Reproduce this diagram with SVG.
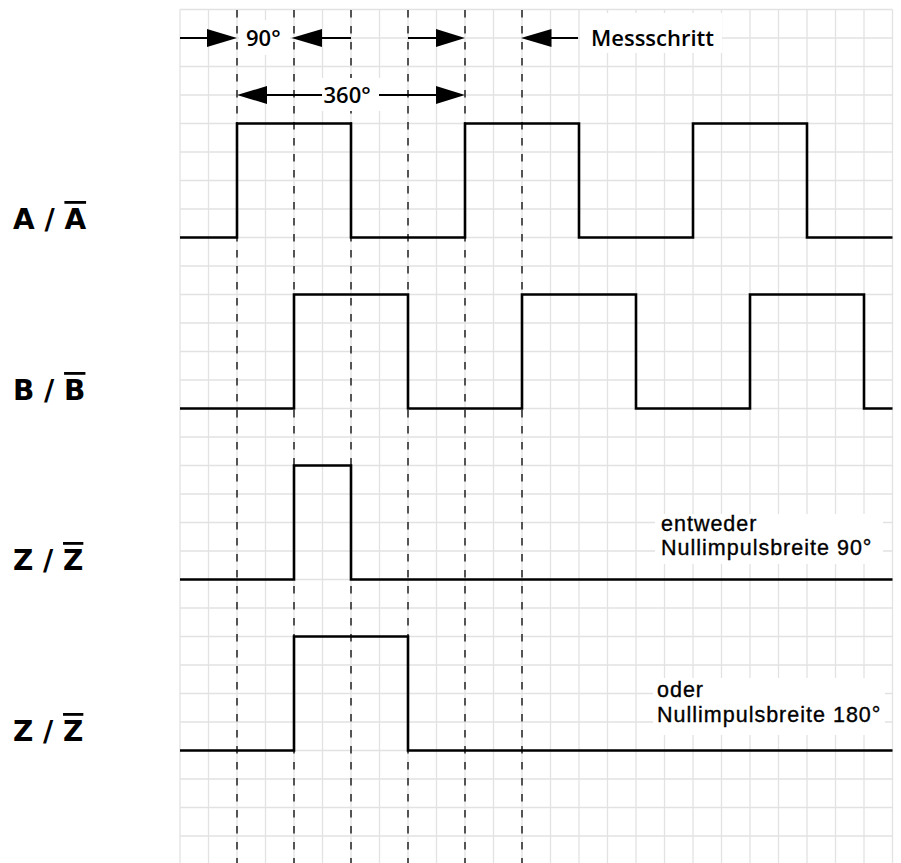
<svg xmlns="http://www.w3.org/2000/svg" width="901" height="863" viewBox="0 0 901 863">
<style>
.grid{stroke:#e2e2e2;stroke-width:1.3;fill:none}
.dash{stroke:#222;stroke-width:1.5;stroke-dasharray:7.5 8.5;fill:none}
.sig{stroke:#000;stroke-width:2.6;fill:none;stroke-linejoin:miter}
.arr{stroke:#000;stroke-width:2;fill:none}
.head{fill:#000;stroke:none}
.bg{fill:#fff}
.lbl{font-family:"DejaVu Sans",sans-serif;font-weight:bold;font-size:28px;fill:#000}
.ann{font-family:"Open Sans","Liberation Sans",sans-serif;font-weight:600;font-size:22px;fill:#000}
.note{font-family:"Liberation Sans",Arial,sans-serif;font-size:21.5px;letter-spacing:1px;fill:#000;stroke:#000;stroke-width:0.35}
.ov{text-decoration:overline}
</style>
<rect width="901" height="863" fill="#fff"/>
<g id="grid">
<path class="grid" d="M180,9.5V863M208.5,9.5V863M237,9.5V863M265.5,9.5V863M294,9.5V863M322.5,9.5V863M351,9.5V863M379.5,9.5V863M408,9.5V863M436.5,9.5V863M465,9.5V863M493.5,9.5V863M522,9.5V863M550.5,9.5V863M579,9.5V863M607.5,9.5V863M636,9.5V863M664.5,9.5V863M693,9.5V863M721.5,9.5V863M750,9.5V863M778.5,9.5V863M807,9.5V863M835.5,9.5V863M864,9.5V863M892.5,9.5V863"/>
<path class="grid" d="M180,9.5H892.5M180,38H892.5M180,66.5H892.5M180,95H892.5M180,123.5H892.5M180,152H892.5M180,180.5H892.5M180,209H892.5M180,237.5H892.5M180,266H892.5M180,294.5H892.5M180,323H892.5M180,351.5H892.5M180,380H892.5M180,408.5H892.5M180,437H892.5M180,465.5H892.5M180,494H892.5M180,522.5H892.5M180,551H892.5M180,579.5H892.5M180,608H892.5M180,636.5H892.5M180,665H892.5M180,693.5H892.5M180,722H892.5M180,750.5H892.5M180,779H892.5M180,807.5H892.5M180,836H892.5"/>
</g>
<g id="phase-lines">
<path class="dash" d="M237,10V863M294,10V863M351,10V863M408,10V863M465,10V863M522,10V863"/>
</g>
<g id="text-backgrounds">
<rect class="bg" x="239" y="20" width="51" height="35"/>
<rect class="bg" x="319" y="78" width="62" height="33"/>
<rect class="bg" x="580" y="13" width="142" height="40"/>
<rect class="bg" x="655" y="514" width="228" height="50"/>
<rect class="bg" x="653" y="678" width="232" height="57"/>
</g>
<g id="signal-A">
<text class="lbl" x="13" y="229">A / <tspan class="ov">A</tspan></text>
<path class="sig" d="M180,237.5H237V123.5H351V237.5H465V123.5H579V237.5H693V123.5H807V237.5H892.5"/>
</g>
<g id="signal-B">
<text class="lbl" x="13" y="400">B / <tspan class="ov">B</tspan></text>
<path class="sig" d="M180,408.5H294V294.5H408V408.5H522V294.5H636V408.5H750V294.5H864V408.5H892.5"/>
</g>
<g id="signal-Z90">
<text class="lbl" x="13" y="570">Z / <tspan class="ov">Z</tspan></text>
<path class="sig" d="M180,579.5H294V465.5H351V579.5H892.5"/>
<text class="note" x="661" y="530.5">entweder</text>
<text class="note" x="661" y="555">Nullimpulsbreite 90°</text>
</g>
<g id="signal-Z180">
<text class="lbl" x="13" y="741">Z / <tspan class="ov">Z</tspan></text>
<path class="sig" d="M180,750.5H294V636.5H408V750.5H892.5"/>
<text class="note" x="657" y="697">oder</text>
<text class="note" x="657" y="721.5">Nullimpulsbreite 180°</text>
</g>
<g id="connectors">
<path class="arr" d="M180,38H208M321,38H351M408,38H437M550,38H578M266,95H322M379,95H437"/>
<polygon class="head" points="207,29 237,38 207,47"/>
<polygon class="head" points="291.5,38 322,29 322,47"/>
<polygon class="head" points="436,29 465,38 436,47"/>
<polygon class="head" points="521,38 551.5,29 551.5,47"/>
<polygon class="head" points="237,95 267,86 267,104"/>
<polygon class="head" points="436,86 465,95 436,104"/>
</g>
<g id="annotations">
<text class="ann" x="246" y="46">90°</text>
<text class="ann" x="323.5" y="103">360°</text>
<text class="ann" x="591" y="45.5">Messschritt</text>
</g>
</svg>
